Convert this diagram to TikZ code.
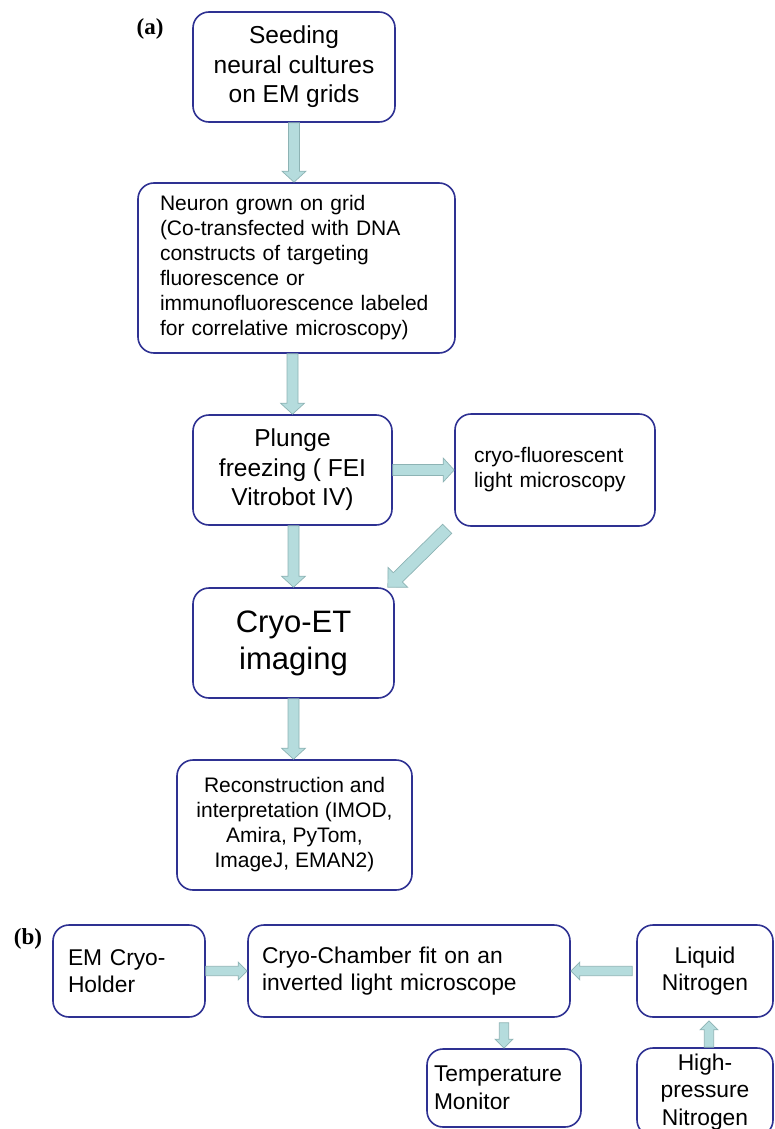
\documentclass[tikz,border=0pt]{standalone}
\usepackage{fontspec}
\setmainfont{Liberation Sans}
\newfontfamily\panelfont{Liberation Serif}
\usepackage{xcolor}
\usetikzlibrary{calc}
\definecolor{boxblue}{HTML}{2E3192}
\definecolor{arrowfill}{HTML}{B5DCDD}
\definecolor{arrowedge}{HTML}{8DB3B4}
\newcommand{\bigtext}{\fontsize{24.5pt}{29.5pt}\selectfont}
\newcommand{\midtext}{\fontsize{21pt}{25pt}\selectfont}
\newcommand{\hugetext}{\fontsize{31pt}{37pt}\selectfont}
\newcommand{\rowtext}{\fontsize{22.8pt}{27.5pt}\selectfont}
\tikzset{
  stage/.style={draw=boxblue,line width=1.6pt,rounded corners=16pt,fill=white,
    inner sep=0pt,align=center,text=black},
  panel/.style={font=\panelfont\bfseries\fontsize{23pt}{27pt}\selectfont,inner sep=0pt},
  shafthalf/.store in=\shafthalf, headhalf/.store in=\headhalf,
  headlength/.store in=\headlength,
  shafthalf=5.5, headhalf=12, headlength=11,
  flowarrow/.style={draw=arrowedge,fill=arrowfill,line width=0.7pt,line join=miter,
    to path={let \p1=(\tikztostart), \p2=(\tikztotarget),
      \n1={atan2(\y2-\y1,\x2-\x1)}, \n2={veclen(\x2-\x1,\y2-\y1)-\headlength} in
      ($(\p1)+(\n1+90:\shafthalf pt)$) -- ($(\p1)+(\n1:\n2*1pt)+(\n1+90:\shafthalf pt)$)
      -- ($(\p1)+(\n1:\n2*1pt)+(\n1+90:\headhalf pt)$) -- (\p2)
      -- ($(\p1)+(\n1:\n2*1pt)+(\n1-90:\headhalf pt)$)
      -- ($(\p1)+(\n1:\n2*1pt)+(\n1-90:\shafthalf pt)$)
      -- ($(\p1)+(\n1-90:\shafthalf pt)$) -- cycle}},
  rowarrow/.style={flowarrow,shafthalf=4.7,headhalf=9,headlength=9}
}

\begin{document}
\begin{tikzpicture}[x=1pt,y=-1pt]
  \useasboundingbox (0,0) rectangle (774,1129);

  % (a) preparation workflow
  \node[panel] (tagA) at (150,29) {(a)};
  \node[stage,minimum width=202pt,minimum height=110pt,font=\bigtext] (seed) at (294,67)
    {Seeding\\neural cultures\\on EM grids};
  \node[stage,minimum width=317pt,minimum height=170pt,text width=273pt,align=left,
    font=\midtext] (neuron) at (296.5,268)
    {Neuron grown on grid\\(Co-transfected with DNA\\constructs of targeting\\fluorescence or\\immunofluorescence labeled\\for correlative microscopy)};
  \node[stage,minimum width=199pt,minimum height=110pt,font=\bigtext] (plunge) at (292.5,470)
    {Plunge\\freezing ( FEI\\Vitrobot IV)};
  \node[stage,minimum width=200pt,minimum height=112pt,text width=162pt,align=left,
    font=\midtext] (cryo) at (555,470) {cryo-fluorescent\\light microscopy};
  \node[stage,minimum width=201pt,minimum height=110pt,font=\hugetext] (cryoet) at (293.5,643)
    {Cryo-ET\\imaging};
  \node[stage,minimum width=235pt,minimum height=130pt,font=\midtext] (recon) at (294.5,825)
    {Reconstruction and\\interpretation (IMOD,\\Amira, PyTom,\\ImageJ, EMAN2)};

  \draw[flowarrow] (seed.south) to (seed.south |- neuron.north);
  \draw[flowarrow] (plunge.north |- neuron.south) to (plunge.north);
  \draw[flowarrow] (plunge.east) to (cryo.west);
  \draw[flowarrow] (cryoet.north |- plunge.south) to (cryoet.north);
  \draw[flowarrow,shafthalf=6.5,headhalf=14,headlength=14]
    ($(cryo.south west)+(-7,2)$) to ($(cryoet.north east)+(-7,0)$);
  \draw[flowarrow] (cryoet.south) to (recon.north -| cryoet.south);

  % (b) cryo-chamber setup
  \node[panel] (tagB) at (28,939) {(b)};
  \node[stage,minimum width=152pt,minimum height=92pt,text width=122pt,align=left,
    font=\rowtext] (holder) at (129,971) {EM Cryo-\\Holder};
  \node[stage,minimum width=322pt,minimum height=92pt,text width=294pt,align=left,
    font=\rowtext] (chamber) at (409,971) {Cryo-Chamber fit on an\\inverted light microscope};
  \node[stage,minimum width=136pt,minimum height=92pt,font=\rowtext] (nitro) at (705,971)
    {Liquid\\Nitrogen};
  \node[stage,minimum width=154pt,minimum height=78pt,text width=140pt,align=left,
    font=\rowtext] (temp) at (504,1088) {Temperature\\Monitor};
  \node[stage,minimum width=136pt,minimum height=88pt,font=\rowtext] (hpn) at (705,1092)
    {High-\\pressure\\Nitrogen};

  \draw[rowarrow] (holder.east) to (chamber.west);
  \draw[rowarrow] ($(nitro.west)+(-4,0)$) to (chamber.east);
  \draw[rowarrow] ($(temp.north |- chamber.south)+(0,5)$) to (temp.north);
  \draw[rowarrow] ($(hpn.north)+(4,0)$) to ($(nitro.south)+(4,3)$);
\end{tikzpicture}
\end{document}
